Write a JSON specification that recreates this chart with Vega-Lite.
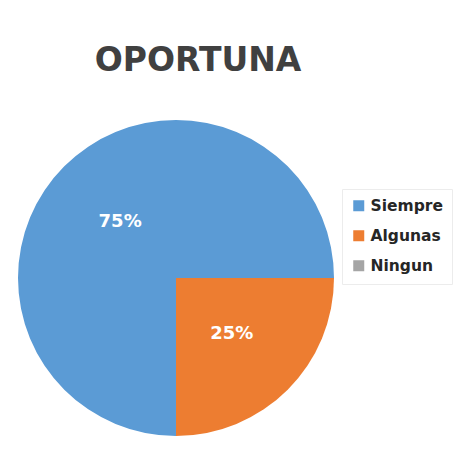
{
  "$schema": "https://vega.github.io/schema/vega-lite/v6.json",
  "width": 316,
  "height": 316,
  "autosize": "none",
  "padding": {"left": 18, "top": 120, "right": 120, "bottom": 20},
  "background": "white",
  "title": {
    "text": "OPORTUNA",
    "font": "DejaVu Sans",
    "fontSize": 33,
    "fontWeight": "bold",
    "color": "#404040",
    "anchor": "middle",
    "frame": "group",
    "baseline": "alphabetic",
    "offset": 16,
    "dx": 22
  },
  "data": {
    "values": [
      {"category": "Siempre", "value": 0.75},
      {"category": "Algunas", "value": 0.25},
      {"category": "Ningun", "value": 0}
    ]
  },
  "encoding": {
    "theta": {"field": "value", "type": "quantitative", "stack": true, "scale": {"range": [1.5708, 7.854]}},
    "order": {"field": "category", "sort": "ascending"}
  },
  "layer": [
    {
      "mark": {"type": "arc", "outerRadius": 158},
      "encoding": {
        "color": {
          "field": "category",
          "type": "nominal",
          "scale": {"domain": ["Siempre", "Algunas", "Ningun"], "range": ["#5B9BD5", "#ED7D31", "#A5A5A5"]},
          "legend": {
            "title": null,
            "orient": "none",
            "legendX": 324,
            "legendY": 69,
            "symbolType": "square",
            "symbolSize": 121,
            "symbolStrokeWidth": 0,
            "labelFont": "DejaVu Sans",
            "labelFontSize": 15.5,
            "labelFontWeight": "bold",
            "labelColor": "#262626",
            "rowPadding": 13,
            "padding": 9,
            "fillColor": "white",
            "strokeColor": "#ececec"
          }
        }
      }
    },
    {
      "transform": [{"filter": "datum.value > 0"}],
      "mark": {"type": "text", "radius": 79, "font": "DejaVu Sans", "fontSize": 18, "fontWeight": "bold", "color": "white"},
      "encoding": {
        "text": {"field": "value", "type": "quantitative", "format": ".0%"}
      }
    }
  ],
  "config": {"view": {"stroke": null}}
}
